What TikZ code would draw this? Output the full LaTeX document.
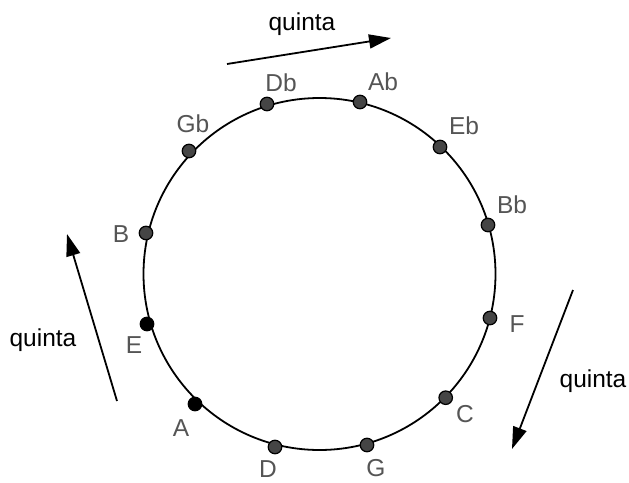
\documentclass[tikz,border=0pt]{standalone}
\usepackage{fontspec}
\setmainfont{Liberation Sans}
\usetikzlibrary{arrows.meta}
\definecolor{dotgray}{HTML}{454545}
\definecolor{labgray}{HTML}{555555}
\begin{document}
\begin{tikzpicture}[x=1pt,y=-1pt,
  note/.style={circle,draw=black,line width=1.2pt,fill=dotgray,minimum size=13.5pt,inner sep=0pt},
  notedark/.style={note,fill=black},
  lab/.style={text=labgray,font=\fontsize{24.5}{27}\selectfont,inner sep=0pt},
  qlab/.style={text=black,font=\fontsize{24.5}{27}\selectfont,inner sep=0pt},
  fifth/.style={line width=1.8pt,-{Triangle[length=22pt,width=14pt]}}]
\useasboundingbox (0,0) rectangle (629,482);
\draw[line width=1.8pt] (319.5,274) circle (176);
\node[note] (Db) at (267,104) {};
\node[note] (Ab) at (360,102) {};
\node[note] (Eb) at (440,147) {};
\node[note] (Bb) at (488,225) {};
\node[note] (F) at (490,318) {};
\node[note] (C) at (445.7,397.7) {};
\node[note] (G) at (367,445) {};
\node[note] (D) at (275,447) {};
\node[notedark] (A) at (195,404) {};
\node[notedark] (E) at (147,324) {};
\node[note] (B) at (146,233) {};
\node[note] (Gb) at (189,151) {};
\node[lab] (lDb) at (281,83) {Db};
\node[lab] (lAb) at (383,82) {Ab};
\node[lab] (lEb) at (464,126) {Eb};
\node[lab] (lBb) at (512,205) {Bb};
\node[lab] (lF) at (517,324) {F};
\node[lab] (lC) at (465,414) {C};
\node[lab] (lG) at (376,468) {G};
\node[lab] (lD) at (268,469) {D};
\node[lab] (lA) at (181,428) {A};
\node[lab] (lE) at (134,345) {E};
\node[lab] (lB) at (121,234) {B};
\node[lab] (lGb) at (193,124) {Gb};
\node[qlab] (q1) at (302,24) {quinta};
\node[qlab] (q2) at (43,340) {quinta};
\node[qlab] (q3) at (593,381) {quinta};
\coordinate (t1) at (227,64);
\coordinate (h1) at (391,38);
\coordinate (t2) at (117,401);
\coordinate (h2) at (67,234);
\coordinate (t3) at (573,290);
\coordinate (h3) at (512,449);
\draw[fifth] (t1) -- (h1);
\draw[fifth] (t2) -- (h2);
\draw[fifth] (t3) -- (h3);
\end{tikzpicture}
\end{document}
